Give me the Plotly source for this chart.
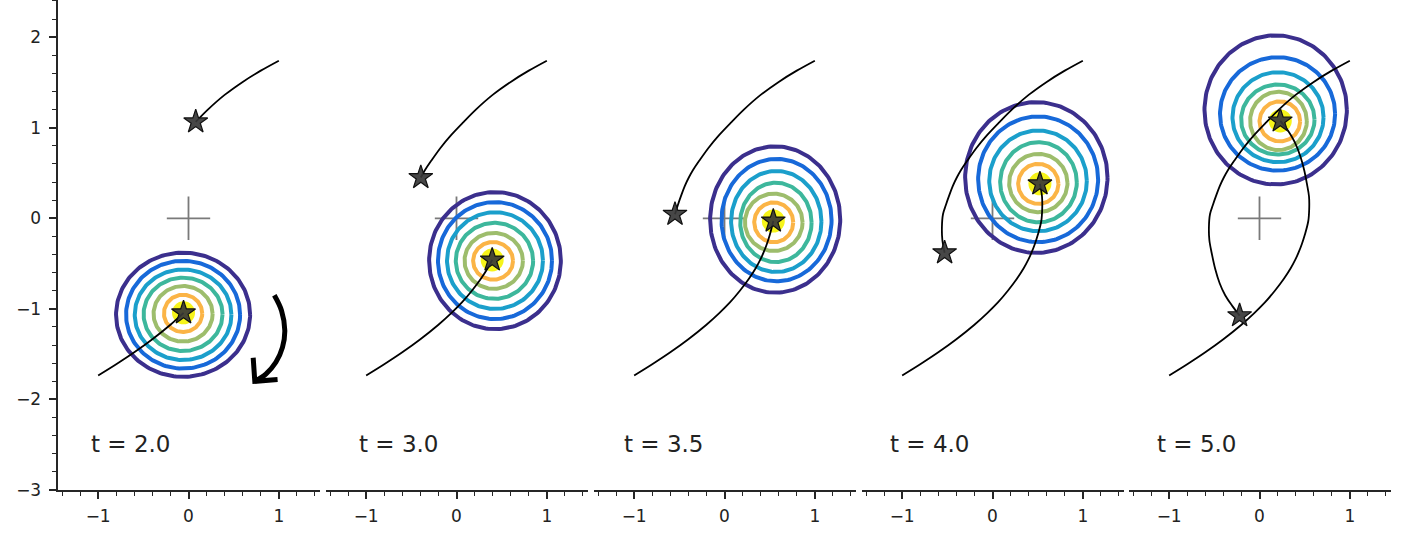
import numpy as np
import plotly.graph_objects as go

# ---------------- data ----------------
times = ["2.0", "3.0", "3.5", "4.0", "5.0"]
label_x = [-1.10, -1.10, -1.13, -1.16, -1.16]
label_y = -2.49

# trajectory of particle A (starts lower-left)
path_a_x = [-1.00, -0.80, -0.60, -0.40, -0.20, -0.055, 0.06, 0.17, 0.27, 0.345, 0.395, 0.435,
            0.47, 0.50, 0.54, 0.55, 0.548, 0.525, 0.495, 0.45, 0.39, 0.32, 0.23]
path_a_y = [-1.735, -1.611, -1.479, -1.335, -1.175, -1.044, -0.929, -0.80, -0.668, -0.552,
            -0.46, -0.372, -0.281, -0.188, -0.03, 0.10, 0.24, 0.38, 0.53, 0.69, 0.84, 0.96, 1.075]
# trajectory of particle B (starts upper-right)
path_b_x = [1.00, 0.80, 0.60, 0.40, 0.22, 0.08, -0.06, -0.18, -0.28, -0.35, -0.395, -0.44,
            -0.48, -0.515, -0.548, -0.56, -0.555, -0.53, -0.49, -0.44, -0.38, -0.30, -0.22]
path_b_y = [1.74, 1.63, 1.506, 1.362, 1.205, 1.065, 0.918, 0.774, 0.634, 0.53, 0.45, 0.355,
            0.25, 0.15, 0.045, -0.10, -0.24, -0.38, -0.56, -0.72, -0.85, -0.97, -1.075]
# index of the current position in each panel
star_index = [5, 10, 14, 17, 22]

# contour rings, outer -> inner, per panel
ring_cx = [
    [-0.06, -0.06, -0.06, -0.06, -0.06, -0.06],
    [0.426, 0.426, 0.426, 0.42, 0.412, 0.405],
    [0.561, 0.576, 0.573, 0.569, 0.545, 0.545],
    [0.485, 0.505, 0.504, 0.509, 0.507, 0.507],
    [0.179, 0.20, 0.205, 0.203, 0.21, 0.225],
]
ring_cy = [
    [-1.065, -1.065, -1.065, -1.06, -1.055, -1.05],
    [-0.467, -0.467, -0.467, -0.47, -0.47, -0.47],
    [-0.014, -0.02, -0.035, -0.045, -0.045, -0.045],
    [0.45, 0.43, 0.413, 0.398, 0.389, 0.38],
    [1.196, 1.152, 1.116, 1.09, 1.075, 1.07],
]
ring_rx = [
    [0.742, 0.631, 0.535, 0.437, 0.327, 0.212],
    [0.729, 0.631, 0.531, 0.428, 0.323, 0.221],
    [0.72, 0.609, 0.50, 0.395, 0.319, 0.216],
    [0.788, 0.664, 0.54, 0.424, 0.323, 0.223],
    [0.788, 0.637, 0.504, 0.406, 0.314, 0.225],
]
ring_ry = [
    [0.685, 0.595, 0.50, 0.405, 0.307, 0.206],
    [0.757, 0.646, 0.534, 0.42, 0.309, 0.208],
    [0.808, 0.676, 0.558, 0.438, 0.317, 0.22],
    [0.832, 0.694, 0.556, 0.442, 0.322, 0.221],
    [0.823, 0.626, 0.497, 0.387, 0.322, 0.221],
]
ring_colors = ["#3b2f8d", "#1769d9", "#1b9fcb", "#3db79c", "#9dbd6c", "#fbb446"]
core_color = "#f6f41a"

# curved arrow in first panel
arrow_x = [0.95, 1.03, 1.066, 1.04, 0.967, 0.856, 0.734]
arrow_y = [-0.85, -1.02, -1.24, -1.425, -1.59, -1.72, -1.80]
arrow_head_x = [0.716, 0.734, 0.986]
arrow_head_y = [-1.54, -1.80, -1.78]

x_ticks = [-1, 0, 1]
x_ticktext = ["−1", "0", "1"]
y_ticks = [-3, -2, -1, 0, 1, 2]
y_ticktext = ["−3", "−2", "−1", "0", "1", "2"]

# ---------------- figure ----------------
W, H = 1408, 537
panel_left_px = [57.5, 325.5, 593.5, 861.5, 1128.5]
panel_w_px = 262.0
axis_col = "#262626"
font_fam = "DejaVu Sans"

fig = go.Figure()
theta = np.linspace(0, 2 * np.pi, 181)

for k in range(5):
    xa = "x" if k == 0 else f"x{k+1}"
    # origin cross
    fig.add_trace(go.Scatter(x=[-0.24, 0.24, None, 0, 0], y=[0, 0, None, -0.24, 0.24],
                             xaxis=xa, yaxis="y", mode="lines",
                             line=dict(color="#7a7a7a", width=1.8), hoverinfo="skip"))
    # rings
    for j in range(6):
        ex = ring_cx[k][j] + ring_rx[k][j] * np.cos(theta)
        ey = ring_cy[k][j] + ring_ry[k][j] * np.sin(theta)
        fig.add_trace(go.Scatter(x=ex, y=ey, xaxis=xa, yaxis="y", mode="lines",
                                 line=dict(color=ring_colors[j], width=4), hoverinfo="skip"))
    i = star_index[k]
    # core
    fig.add_trace(go.Scatter(x=[path_a_x[i]], y=[path_a_y[i]], xaxis=xa, yaxis="y",
                             mode="markers", marker=dict(size=23, color=core_color),
                             hoverinfo="skip"))
    # trajectories
    for px, py in ((path_a_x, path_a_y), (path_b_x, path_b_y)):
        fig.add_trace(go.Scatter(x=px[:i + 1], y=py[:i + 1], xaxis=xa, yaxis="y",
                                 mode="lines", line=dict(color="black", width=1.8, shape="spline",
                                                         smoothing=1.0),
                                 hoverinfo="skip"))
    # stars
    fig.add_trace(go.Scatter(x=[path_a_x[i], path_b_x[i]], y=[path_a_y[i], path_b_y[i]],
                             xaxis=xa, yaxis="y", mode="markers",
                             marker=dict(symbol="star", size=18, color="rgba(55,55,55,0.92)",
                                         line=dict(color="#111111", width=1.2)),
                             hoverinfo="skip"))
    fig.add_annotation(x=label_x[k], y=label_y, xref=xa, yref="y", text=f"t = {times[k]}",
                       showarrow=False, xanchor="left", yanchor="middle",
                       font=dict(family=font_fam, size=23, color="#222222"))

# arrow
fig.add_trace(go.Scatter(x=arrow_x, y=arrow_y, xaxis="x", yaxis="y", mode="lines",
                         line=dict(color="black", width=5, shape="spline"), hoverinfo="skip"))
fig.add_trace(go.Scatter(x=arrow_head_x, y=arrow_head_y, xaxis="x", yaxis="y", mode="lines",
                         line=dict(color="black", width=5), hoverinfo="skip"))

x_minor = [round(v, 1) for v in np.arange(-1.4, 1.41, 0.2) if abs(round(v, 1) - round(v)) > 1e-6]
y_minor = [round(v, 1) for v in np.arange(-2.8, 2.41, 0.2) if abs(round(v, 1) - round(v)) > 1e-6]

layout = dict(
    width=W, height=H, template="none",
    margin=dict(l=0, r=0, t=0, b=47, pad=0),
    paper_bgcolor="white", plot_bgcolor="white",
    showlegend=False,
    yaxis=dict(domain=[0, 1], range=[-3, 2.41], anchor="x", showline=True,
               linecolor=axis_col, linewidth=1.8, ticks="outside", ticklen=7, tickwidth=1.6,
               tickcolor=axis_col, tickvals=y_ticks, ticktext=y_ticktext,
               tickfont=dict(family=font_fam, size=17, color="#222222"),
               minor=dict(tickvals=y_minor, ticks="outside", ticklen=4, tickwidth=1.2,
                          tickcolor=axis_col, showgrid=False),
               showgrid=False, zeroline=False, automargin=False, ticklabelstandoff=4),
)
for k in range(5):
    name = "xaxis" if k == 0 else f"xaxis{k+1}"
    d0 = panel_left_px[k] / W
    d1 = (panel_left_px[k] + panel_w_px) / W
    layout[name] = dict(domain=[d0, d1], range=[-1.45, 1.45], anchor="y", showline=True,
                        linecolor=axis_col, linewidth=1.8, ticks="outside", ticklen=7,
                        tickwidth=1.6, tickcolor=axis_col, tickvals=x_ticks,
                        ticktext=x_ticktext,
                        tickfont=dict(family=font_fam, size=17, color="#222222"),
                        minor=dict(tickvals=x_minor, ticks="outside", ticklen=4, tickwidth=1.2,
                                   tickcolor=axis_col, showgrid=False),
                        showgrid=False, zeroline=False, automargin=False,
                        ticklabelstandoff=3)
fig.update_layout(**layout)
fig.write_html("out.html", config={"displayModeBar": False},
               post_script="document.body.style.margin='0px';document.body.style.overflow='hidden';")
